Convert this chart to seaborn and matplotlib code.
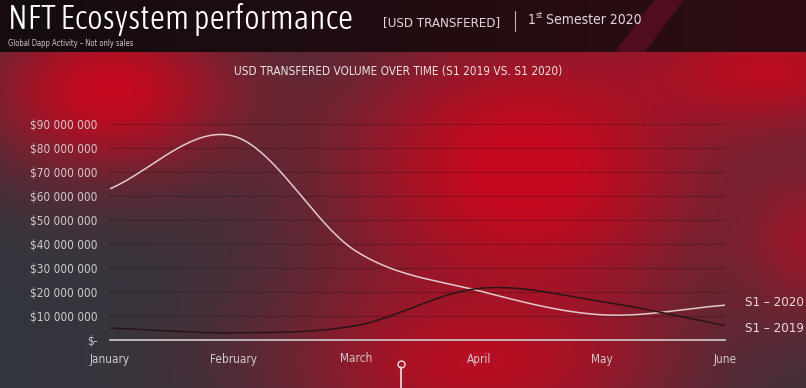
import numpy as np
import pandas as pd
import matplotlib
matplotlib.use("Agg")
import matplotlib.pyplot as plt
from matplotlib.lines import Line2D
from matplotlib import font_manager as fm
import matplotlib.ticker as mticker
import seaborn as sns

months = ["January", "February", "March", "April", "May", "June"]
s1_2020 = [63_000_000, 85_000_000, 37_000_000, 20_500_000, 10_500_000, 14_500_000]
s1_2019 = [5_000_000, 3_000_000, 6_000_000, 21_500_000, 16_000_000, 6_000_000]
series_names = ["S1 – 2020", "S1 – 2019"]

sns.set_style("dark")
plt.rcParams["font.family"] = ["DejaVu Sans"]


# look for a narrow font among the installed ones
def pick_font(want_light=False):
    fonts = fm.fontManager.ttflist
    def score(f):
        n = f.name.lower()
        narrow = ("condensed" in n or "narrow" in n or f.stretch in ("condensed", "semi-condensed"))
        if not narrow or f.style != "normal" or "cjk" in n:
            return None
        w = f.weight if isinstance(f.weight, int) else 400
        target = 300 if want_light else 400
        return abs(w - target)
    best = [(score(f), f.fname) for f in fonts if score(f) is not None]
    if best:
        return fm.FontProperties(fname=sorted(best)[0][1])
    return fm.FontProperties(family="DejaVu Sans", weight="light" if want_light else "normal")


fp = pick_font()
fp_light = pick_font(want_light=True)

W, H = 806, 388
fig = plt.figure(figsize=(W / 100, H / 100), dpi=100)

# --- background: grey base with soft red glows, dark header band ---
yy, xx = np.mgrid[0:H, 0:W].astype(float)
base = np.array([0.20, 0.21, 0.24])
red = np.array([0.80, 0.03, 0.12])
keep = np.ones((H, W))
for cx, cy, rx, ry, a in [(110, 90, 125, 80, 0.95), (525, 170, 190, 150, 1.0),
                          (480, 365, 180, 85, 0.8), (770, 70, 140, 60, 0.85),
                          (810, 240, 70, 80, 0.55)]:
    keep *= 1 - a * np.exp(-(((xx - cx) / rx) ** 2 + ((yy - cy) / ry) ** 2))
glow = np.clip((1 - keep) ** 0.8, 0, 0.97)
img = base[None, None, :] * (1 - glow[..., None]) + red[None, None, :] * glow[..., None]
# header band
hdr = yy < 52
t = xx / W
hdr_col = np.stack([0.08 + 0.10 * t, 0.05 + 0.0 * t, 0.06 + 0.01 * t], axis=-1)
img[hdr] = hdr_col[hdr]
stripe = hdr & (np.abs((xx - 668) + (yy * 0.75)) < 15)
img[stripe] = img[stripe] * 0.55 + np.array([0.50, 0.06, 0.18]) * 0.45
bg = fig.add_axes([0, 0, 1, 1])
bg.imshow(img, aspect="auto", extent=[0, W, H, 0])
bg.axis("off")


# Excel-like smoothed line (Catmull-Rom) for drawing only
def smooth(vals, n=40):
    p = np.array(vals, dtype=float)
    ext = np.concatenate([[2 * p[0] - p[1]], p, [2 * p[-1] - p[-2]]])
    xs, ys = [], []
    for i in range(len(p) - 1):
        p0, p1, p2, p3 = ext[i], ext[i + 1], ext[i + 2], ext[i + 3]
        s = np.linspace(0, 1, n, endpoint=(i == len(p) - 2))
        y = 0.5 * ((2 * p1) + (-p0 + p2) * s + (2 * p0 - 5 * p1 + 4 * p2 - p3) * s ** 2
                   + (-p0 + 3 * p1 - 3 * p2 + p3) * s ** 3)
        xs.extend(i + s)
        ys.extend(y)
    return np.array(xs), np.array(ys)


ax = fig.add_axes([110 / W, 1 - 340 / H, 615 / W, 216 / H])
ax.patch.set_alpha(0)

x20, y20 = smooth(s1_2020)
x19, y19 = smooth(s1_2019)
df = pd.concat([
    pd.DataFrame({"x": x20, "y": y20, "series": series_names[0]}),
    pd.DataFrame({"x": x19, "y": y19, "series": series_names[1]}),
])
sns.lineplot(data=df, x="x", y="y", hue="series", sort=False,
             palette={series_names[0]: "#e2c9cc", series_names[1]: "#2a1418"},
             linewidth=1.1, legend=False, ax=ax)

ax.set_xlim(0, len(months) - 1)
ax.set_ylim(0, 90_000_000)
ax.set_xticks(range(len(months)))
ax.set_xticklabels(months)
ax.yaxis.set_major_locator(mticker.MultipleLocator(10_000_000))
ax.yaxis.set_major_formatter(mticker.FuncFormatter(
    lambda v, _: "$-" if v == 0 else "$" + f"{int(v):,}".replace(",", " ")))
ax.tick_params(colors="#d0cacc", labelsize=8.5, length=0, pad=9)
for lbl in ax.get_xticklabels() + ax.get_yticklabels():
    lbl.set_fontproperties(fp)
    lbl.set_fontsize(8.5)
ax.set_xlabel("")
ax.set_ylabel("")
ax.grid(axis="y", color="#141414", alpha=0.3, linewidth=0.8)
ax.grid(axis="x", visible=False)
for s in ["top", "right", "left"]:
    ax.spines[s].set_visible(False)
ax.spines["bottom"].set_color("#c9bfc2")
ax.spines["bottom"].set_linewidth(1.3)

ax.text(5.16, s1_2020[-1] + 1_000_000, series_names[0], color="#e6dadc",
        fontproperties=fp, fontsize=9.5, va="center", clip_on=False)
ax.text(5.16, s1_2019[-1] - 1_000_000, series_names[1], color="#e6dadc",
        fontproperties=fp, fontsize=9.5, va="center", clip_on=False)

# --- header texts ---
fig.text(8 / W, 1 - 20 / H, "NFT Ecosystem performance", color="white",
         fontproperties=fp_light, fontsize=24, va="center")
fig.text(383 / W, 1 - 23 / H, "[USD TRANSFERED]", color="#e0d8da",
         fontproperties=fp, fontsize=9.5, va="center")
fig.add_artist(Line2D([515 / W, 515 / W], [1 - 11 / H, 1 - 31 / H], color="#bdb5b7", lw=0.8))
fig.text(528 / W, 1 - 20 / H, "1", color="#e0d8da", fontproperties=fp, fontsize=10, va="center")
fig.text(535.5 / W, 1 - 15 / H, "st", color="#e0d8da", fontproperties=fp, fontsize=6, va="center")
fig.text(546 / W, 1 - 20 / H, "Semester 2020", color="#e0d8da", fontproperties=fp,
         fontsize=10, va="center")
fig.text(8 / W, 1 - 44 / H, "Global Dapp Activity – Not only sales", color="#cfc8ca",
         fontproperties=fp, fontsize=5.5, style="italic", va="center")
fig.text(398 / W, 1 - 72 / H, "USD TRANSFERED VOLUME OVER TIME (S1 2019 VS. S1 2020)",
         color="#e8e2e3", fontproperties=fp, fontsize=8.5, ha="center", va="center")

# scrubber mark at bottom
fig.add_artist(Line2D([401 / W, 401 / W], [0, 1 - 367 / H], color="#e8dde0", lw=1.2))
fig.add_artist(Line2D([401 / W], [1 - 364 / H], marker="o", markersize=5,
                      markerfacecolor="none", markeredgecolor="#e8dde0", lw=0))

fig.savefig("out.png", dpi=100)
